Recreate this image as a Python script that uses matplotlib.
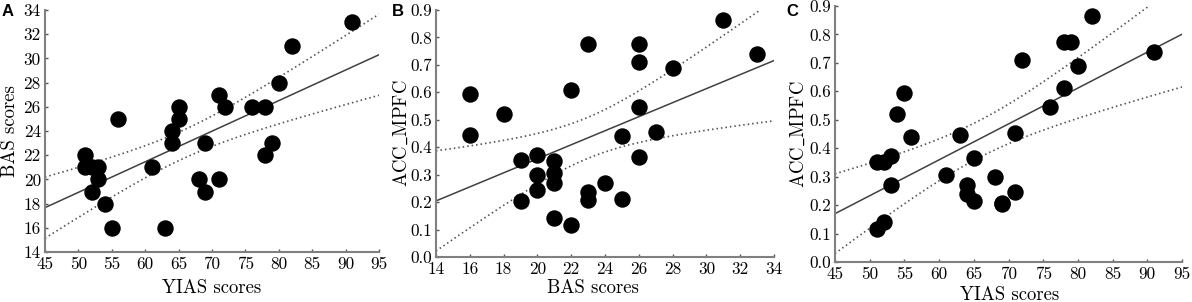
import numpy as np
import matplotlib
matplotlib.use("Agg")
import matplotlib.pyplot as plt

# Data: one entry per subject
yias = [91, 82, 80, 79, 78, 78, 76, 72, 71, 71, 69, 69, 68, 65, 65, 64, 64, 63,
        61, 56, 55, 54, 51, 51, 52, 53, 53, 52]
bas = [33, 31, 28, 23, 26, 22, 26, 26, 27, 20, 23, 19, 20, 26, 25, 24, 23, 16,
       21, 25, 16, 18, 22, 21, 19, 20, 21, 21]
acc_mpfc = [0.74, 0.865, 0.69, 0.775, 0.775, 0.61, 0.545, 0.71, 0.455, 0.245,
            0.207, 0.203, 0.30, 0.365, 0.213, 0.27, 0.238, 0.445, 0.307, 0.44,
            0.595, 0.52, 0.115, 0.35, 0.352, 0.372, 0.27, 0.142]

panel_letters = ["A", "B", "C"]
x_labels = ["YIAS scores", "BAS scores", "YIAS scores"]
y_labels = ["BAS scores", r"$\mathrm{ACC\_MPFC}$", r"$\mathrm{ACC\_MPFC}$"]
x_ticks = [np.arange(45, 96, 5), np.arange(14, 35, 2), np.arange(45, 96, 5)]
y_ticks = [np.arange(14, 35, 2), np.arange(0, 0.91, 0.1), np.arange(0, 0.91, 0.1)]
y_fmts = ["{:.0f}", "{:.1f}", "{:.1f}"]
xs_data = [yias, bas, yias]
ys_data = [bas, acc_mpfc, acc_mpfc]

plt.rcParams["mathtext.fontset"] = "cm"

# layout in pixels: (left, top, right, bottom), label positions
rects = [(45, 10, 379, 252), (436, 10, 774, 257), (835, 6, 1182, 262)]
xlabel_pos = [(212, 293), (593, 293), (1010, 300)]   # center x, baseline y
ylabel_pos = [(15, 131), (407, 133.5), (804, 134)]   # baseline x, center y
letter_pos = [(2, 16), (392, 16), (786, 16)]

W, H = 1192, 302
fig = plt.figure(figsize=(W / 100, H / 100), dpi=100)
serif = "cmr10"
T_CRIT = 2.0555  # t(0.975, df=26)

def fx(px):
    return px / W

def fy(py):
    return 1 - py / H

for i in range(3):
    l, t, r, b = rects[i]
    ax = fig.add_axes([fx(l), fy(b), (r - l) / W, (b - t) / H])
    x = np.asarray(xs_data[i], float)
    y = np.asarray(ys_data[i], float)
    xt, yt = x_ticks[i], y_ticks[i]
    n = len(x)
    slope, icpt = np.polyfit(x, y, 1)
    xs = np.linspace(xt[0], xt[-1], 200)
    fit = icpt + slope * xs
    resid = y - (icpt + slope * x)
    s = np.sqrt(np.sum(resid ** 2) / (n - 2))
    se = s * np.sqrt(1 / n + (xs - x.mean()) ** 2 / np.sum((x - x.mean()) ** 2))
    ax.plot(xs, fit, color="#404040", lw=1.1, zorder=2)
    for sign in (1, -1):
        ax.plot(xs, fit + sign * T_CRIT * se, color="#505050", lw=1.2,
                ls=(0, (0.9, 1.8)), zorder=2)
    ax.scatter(x, y, s=140, color="black", zorder=3, linewidths=0, clip_on=False)

    ax.set_xlim(xt[0], xt[-1])
    ax.set_ylim(yt[0], yt[-1])
    ax.set_xticks(xt)
    ax.set_yticks(yt)
    ax.set_xticklabels([f"{v:.0f}" for v in xt], fontfamily=serif, fontsize=12.3)
    ax.set_yticklabels([y_fmts[i].format(v) for v in yt], fontfamily=serif, fontsize=12.3)
    ax.tick_params(direction="in", length=2, width=1, color="#555555")
    ax.tick_params(axis="x", pad=3.5)
    ax.tick_params(axis="y", pad=3.0)
    for side in ("top", "right"):
        ax.spines[side].set_visible(False)
    for side in ("left", "bottom"):
        ax.spines[side].set_color("#808080")
        ax.spines[side].set_linewidth(1.5)

    cx, by = xlabel_pos[i]
    fig.text(fx(cx), fy(by), x_labels[i], fontfamily=serif, fontsize=13.5,
             ha="center", va="baseline")
    bx, cy = ylabel_pos[i]
    fig.text(fx(bx), fy(cy), y_labels[i], fontfamily=serif, fontsize=13.5,
             rotation=90, rotation_mode="anchor", ha="center", va="baseline")
    lx, ly = letter_pos[i]
    fig.text(fx(lx), fy(ly), panel_letters[i], fontfamily="Liberation Sans",
             fontweight="bold", fontsize=12, va="baseline", ha="left")

fig.savefig("out.png", dpi=100)
